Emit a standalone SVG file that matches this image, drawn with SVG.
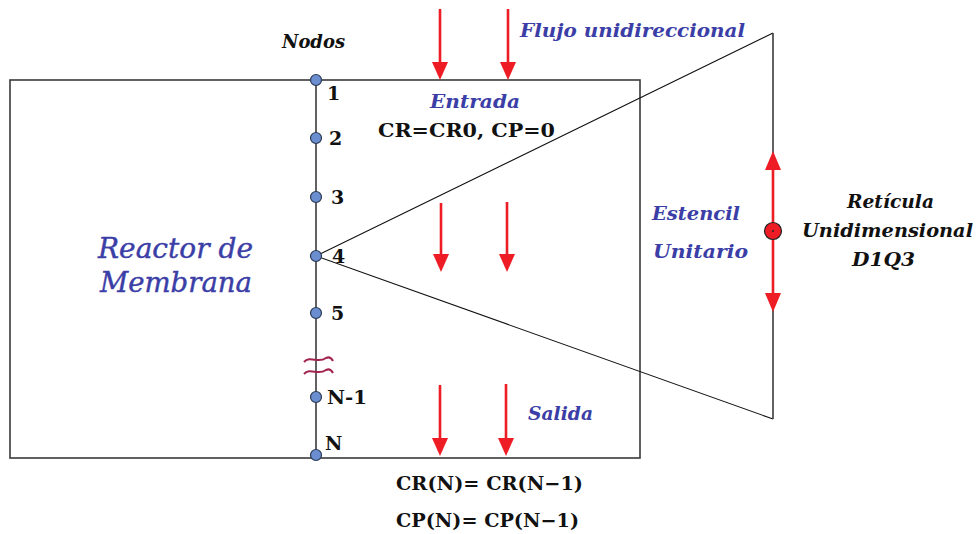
<svg xmlns="http://www.w3.org/2000/svg" width="976" height="534" viewBox="0 0 976 534">
<defs>
<style>
.frame{fill:none;stroke:#3a3a3a;stroke-width:1.6}
.thin{fill:none;stroke:#111;stroke-width:1.1}
.red{stroke:#ee1c24;stroke-width:2.6;fill:none}
.head{fill:#ee1c24}
.node{fill:#6a8ecf;stroke:#2b3a55;stroke-width:1.2}
.num{font-family:"DejaVu Serif","Liberation Serif",serif;font-weight:bold;font-size:19px;fill:#111}
.blue{font-family:"DejaVu Serif","Liberation Serif",serif;font-weight:bold;font-style:italic;font-size:18px;fill:#3b3ea6}
.blk{font-family:"DejaVu Serif","Liberation Serif",serif;font-weight:bold;font-style:italic;font-size:18px;fill:#111}
.eq{font-family:"DejaVu Serif","Liberation Serif",serif;font-weight:bold;font-size:19px;fill:#111}
.big{font-family:"DejaVu Serif","Liberation Serif",serif;font-style:italic;font-size:27px;fill:#3b3ea6;stroke:#3b3ea6;stroke-width:0.4}
</style>
</defs>
<rect width="976" height="534" fill="#fff"/>
<g id="connectors">
<rect class="frame" x="10" y="80" width="630" height="378"/>
<line class="frame" x1="316" y1="80" x2="316" y2="458"/>
<polyline class="thin" points="773,33 316,256 773,419"/>
<line class="frame" x1="773" y1="33" x2="773" y2="419"/>
<path d="M304,362 C310,355 318,364 326,358 C330,356 332,359 333,361 M304,374 C310,367 318,376 326,370 C330,368 332,371 333,373" fill="none" stroke="#a3254f" stroke-width="2"/>
</g>
<g id="flow-arrows">
<line class="red" x1="440" y1="9" x2="440" y2="64"/><path class="head" d="M432,62 L448,62 L440,80 Z"/>
<line class="red" x1="508" y1="9" x2="508" y2="64"/><path class="head" d="M500,62 L516,62 L508,80 Z"/>
<line class="red" x1="441" y1="203" x2="441" y2="256"/><path class="head" d="M433,254 L449,254 L441,272 Z"/>
<line class="red" x1="507" y1="202" x2="507" y2="256"/><path class="head" d="M499,254 L515,254 L507,272 Z"/>
<line class="red" x1="440" y1="385" x2="440" y2="440"/><path class="head" d="M432,438 L448,438 L440,456 Z"/>
<line class="red" x1="506" y1="384" x2="506" y2="440"/><path class="head" d="M498,438 L514,438 L506,456 Z"/>
</g>
<g id="lattice">
<line class="red" x1="773" y1="166" x2="773" y2="296"/>
<path class="head" d="M765,170 L781,170 L773,151 Z"/>
<path class="head" d="M765,293 L781,293 L773,312 Z"/>
<circle cx="773" cy="231" r="8.5" fill="#ee1c24" stroke="#222" stroke-width="1.2"/>
<circle cx="773" cy="231" r="1" fill="#222"/>
</g>
<g id="nodes">
<g id="n1"><circle class="node" cx="316" cy="80" r="5.5"/><text class="num" x="327" y="100">1</text></g>
<g id="n2"><circle class="node" cx="316" cy="138" r="5.5"/><text class="num" x="329" y="145">2</text></g>
<g id="n3"><circle class="node" cx="316" cy="197" r="5.5"/><text class="num" x="331" y="204">3</text></g>
<g id="n4"><circle class="node" cx="316" cy="256" r="5.5"/><text class="num" x="332" y="263">4</text></g>
<g id="n5"><circle class="node" cx="316" cy="313" r="5.5"/><text class="num" x="331" y="320">5</text></g>
<g id="nN1"><circle class="node" cx="316" cy="397" r="5.5"/><text class="num" x="327" y="404" textLength="40" lengthAdjust="spacingAndGlyphs">N-1</text></g>
<g id="nN"><circle class="node" cx="316" cy="455" r="5.5"/><text class="num" x="325" y="450">N</text></g>
</g>
<g id="labels">
<text class="blk" x="282" y="48" font-size="17" textLength="63" lengthAdjust="spacingAndGlyphs">Nodos</text>
<text class="blue" x="520" y="37" textLength="225" lengthAdjust="spacingAndGlyphs">Flujo unidireccional</text>
<text class="blue" x="430" y="108" textLength="90" lengthAdjust="spacingAndGlyphs">Entrada</text>
<text class="eq" x="378" y="137" textLength="177" lengthAdjust="spacingAndGlyphs">CR=CR0, CP=0</text>
<text class="blue" x="652" y="220" textLength="88" lengthAdjust="spacingAndGlyphs">Estencil</text>
<text class="blue" x="653" y="258" textLength="95" lengthAdjust="spacingAndGlyphs">Unitario</text>
<text class="blk" x="847" y="208" textLength="87" lengthAdjust="spacingAndGlyphs">Retícula</text>
<text class="blk" x="802" y="237" textLength="171" lengthAdjust="spacingAndGlyphs">Unidimensional</text>
<text class="blk" x="852" y="266" textLength="63" lengthAdjust="spacingAndGlyphs">D1Q3</text>
<text class="big" x="98" y="258" textLength="155" lengthAdjust="spacingAndGlyphs">Reactor de</text>
<text class="big" x="100" y="292" textLength="152" lengthAdjust="spacingAndGlyphs">Membrana</text>
<text class="blue" x="528" y="420" textLength="65" lengthAdjust="spacingAndGlyphs">Salida</text>
<text class="eq" x="396" y="490" textLength="187" lengthAdjust="spacingAndGlyphs">CR(N)= CR(N−1)</text>
<text class="eq" x="396" y="527" textLength="183" lengthAdjust="spacingAndGlyphs">CP(N)= CP(N−1)</text>
</g>
</svg>
